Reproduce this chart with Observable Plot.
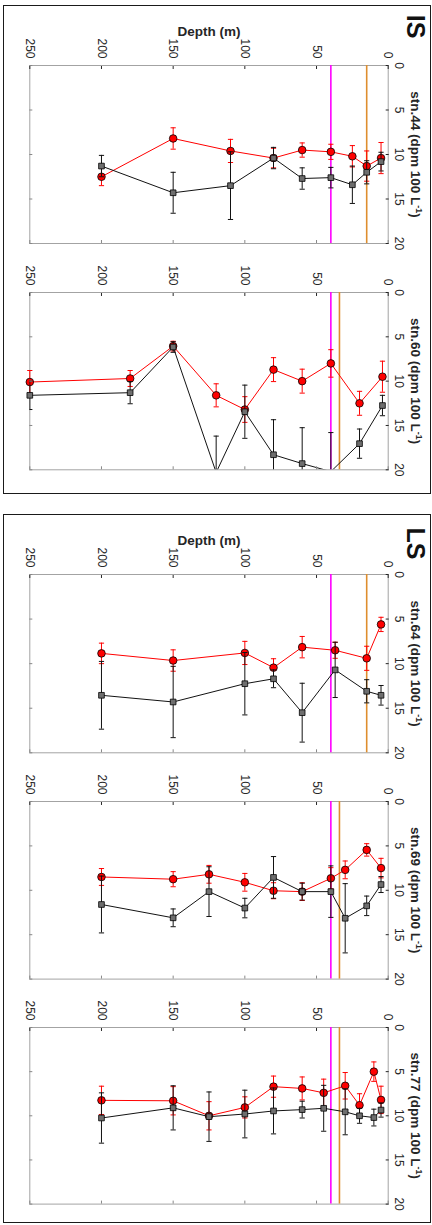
<!DOCTYPE html>
<html><head><meta charset="utf-8">
<script src="https://cdn.jsdelivr.net/npm/d3@7"></script>
<script src="https://cdn.jsdelivr.net/npm/@observablehq/plot@0.6"></script>
<style>
body{margin:0;background:#fff;font-family:"Liberation Sans",Arial,sans-serif;}
#root{position:relative;width:432px;height:1225px;overflow:hidden;}
.box{position:absolute;border:1.5px solid #1a1a1a;box-sizing:border-box;}
.panel{position:absolute;left:0;}
</style></head><body><div id="root"></div>
<script>
// ---- data ----
const stations = ["stn.44", "stn.60", "stn.64", "stn.69", "stn.77"];
const regions = ["IS", "IS", "LS", "LS", "LS"];
const depthTicks = [0, 50, 100, 150, 200, 250];
const actTicks = [0, 5, 10, 15, 20];

const depths = [
  [5, 15, 25, 40, 60, 80, 110, 150, 200],
  [4, 20, 40, 60, 80, 100, 120, 150, 180, 250],
  [5, 15, 37, 60, 80, 100, 150, 200],
  [5, 15, 30, 40, 60, 80, 100, 125, 150, 200],
  [5, 10, 20, 30, 45, 60, 80, 100, 125, 150, 200]
];
const redVals = [
  [10.4, 11.3, 10.2, 9.7, 9.5, 10.4, 9.6, 8.2, 12.5],
  [9.5, 12.5, 8.0, 10.0, 8.7, 13.2, 11.6, 6.05, 9.7, 10.1],
  [5.6, 9.4, 8.5, 8.15, 10.45, 8.8, 9.65, 8.85],
  [7.5, 5.45, 7.7, 8.65, 10.15, 10.05, 9.1, 8.2, 8.75, 8.5],
  [8.2, 5.0, 8.8, 6.6, 7.4, 6.9, 6.7, 9.05, 10.0, 8.3, 8.25]
];
const redErr = [
  [1.75, 1.7, 1.2, 0.85, 0.8, 1.1, 1.3, 1.2, 1.0],
  [1.75, 1.35, 1.55, 1.35, 1.35, 1.45, 1.3, 0.55, 0.9, 1.3],
  [0.8, 1.35, 0.9, 1.2, 1.0, 1.3, 1.2, 1.15],
  [1.1, 0.7, 1.0, 1.2, 1.0, 0.9, 1.0, 1.0, 0.85, 0.95],
  [1.55, 1.1, 1.3, 1.5, 1.55, 1.3, 1.2, 1.2, 1.6, 1.6, 1.6]
];
const blackVals = [
  [10.8, 12.0, 13.4, 12.6, 12.7, 10.4, 13.5, 14.3, 11.3],
  [12.75, 17.05, 20.2, 19.3, 18.3, 13.45, 20.3, 6.15, 11.3, 11.6],
  [13.55, 13.1, 10.7, 15.5, 11.7, 12.25, 14.3, 13.55],
  [9.35, 11.75, 13.15, 10.15, 10.15, 8.55, 12.0, 10.15, 13.1, 11.6],
  [9.35, 10.2, 10.0, 9.55, 9.15, 9.3, 9.45, 9.8, 10.1, 9.1, 10.25]
];
const blackErr = [
  [1.05, 1.3, 2.1, 1.15, 1.2, 1.2, 3.8, 2.3, 1.2],
  [1.15, 1.65, 4.4, 4.05, 3.95, 3.0, 4.1, 0.6, 1.25, 1.6],
  [1.1, 1.3, 3.1, 3.3, 1.0, 3.5, 4.0, 3.8],
  [0.9, 1.1, 3.9, 2.9, 0.95, 2.35, 1.1, 2.8, 1.0, 3.2],
  [0.8, 0.95, 0.85, 2.6, 2.6, 0.95, 2.6, 2.7, 2.8, 2.5, 2.85]
];
const magentaDepth = [40, 40, 40, 40, 40];
const orangeDepth = [15, 34, 15, 34, 34];

// ---- layout ----
const frameTop = [65.3, 292, 574, 800.7, 1026.7];
const frameH = [178, 177.3, 178.3, 177.6, 176.6];
const boxes = [{top: 4.5, height: 489}, {top: 513.5, height: 709}];

const root = document.getElementById("root");
boxes.forEach(b => {
  const d = document.createElement("div");
  d.className = "box";
  d.style.left = "3px"; d.style.width = "427.5px";
  d.style.top = b.top + "px"; d.style.height = b.height + "px";
  root.appendChild(d);
});

const capSym = {draw(ctx, size) { const r = Math.sqrt(size / Math.PI); ctx.moveTo(-r, 0); ctx.lineTo(r, 0); }};
const RED = "#ff0000", MAG = "#ff00ff", ORG = "#de8e2e", GREY = "#6e6e6e", TXT = "#262626";

stations.forEach((stn, i) => {
  const first = i === 0 || regions[i] !== regions[i - 1];
  const rows = depths[i].map((d, j) => ({
    d, red: redVals[i][j], re: redErr[i][j], blk: blackVals[i][j], be: blackErr[i][j]
  }));
  const mt = first ? 62 : 30, mb = 6;
  const marks = [
    Plot.frame({stroke: "#a3a3a3", strokeWidth: 1}),
    Plot.ruleX([magentaDepth[i]], {x: d => d, stroke: MAG, strokeWidth: 1.6}),
    Plot.ruleX([orangeDepth[i]], {x: d => d, stroke: ORG, strokeWidth: 1.6}),
    // red series
    Plot.line(rows, {x: "d", y: "red", stroke: RED, strokeWidth: 1}),
    Plot.ruleX(rows, {x: "d", y1: r => r.red - r.re, y2: r => r.red + r.re, stroke: RED, strokeWidth: 1}),
    Plot.dot(rows, {x: "d", y: r => r.red - r.re, symbol: capSym, r: 2.6, stroke: RED, fill: "none", strokeWidth: 1}),
    Plot.dot(rows, {x: "d", y: r => r.red + r.re, symbol: capSym, r: 2.6, stroke: RED, fill: "none", strokeWidth: 1}),
    Plot.dot(rows, {x: "d", y: "red", symbol: "circle", r: 3.8, fill: RED, stroke: "#000", strokeWidth: 0.8}),
    // black series
    Plot.line(rows, {x: "d", y: "blk", stroke: "#111", strokeWidth: 1, clip: true}),
    Plot.ruleX(rows, {x: "d", y1: r => r.blk - r.be, y2: r => r.blk + r.be, stroke: "#111", strokeWidth: 1, clip: true}),
    Plot.dot(rows, {x: "d", y: r => r.blk - r.be, symbol: capSym, r: 2.6, stroke: "#111", fill: "none", strokeWidth: 1, clip: true}),
    Plot.dot(rows, {x: "d", y: r => r.blk + r.be, symbol: capSym, r: 2.6, stroke: "#111", fill: "none", strokeWidth: 1, clip: true}),
    Plot.dot(rows.filter(r => r.blk <= 20), {x: "d", y: "blk", symbol: "square", r: 3.2, fill: GREY, stroke: "#000", strokeWidth: 0.8}),
    // axes
    Plot.axisX({anchor: "top", ticks: depthTicks, tickSize: -3, tickPadding: 10, tickRotate: 90,
      textAnchor: "end", lineAnchor: "middle", fontSize: 12, color: TXT, label: null}),
    Plot.axisX({anchor: "bottom", ticks: depthTicks, tickSize: -3, tickFormat: () => "", color: "#888", label: null}),
    Plot.axisY({anchor: "right", ticks: actTicks, tickSize: -3, tickPadding: 13.3, tickRotate: 90,
      textAnchor: "middle", lineAnchor: "middle", fontSize: 12, color: TXT, label: null}),
    Plot.axisY({anchor: "left", ticks: actTicks, tickSize: -3, tickFormat: () => "", color: "#888", label: null}),
    Plot.text([stn + " (dpm 100 L-1)"], {frameAnchor: "right", dx: 27.5, rotate: 90, fontSize: 13.5,
      fontWeight: "bold", fill: TXT, textAnchor: "middle", lineAnchor: "middle"})
  ];
  if (first) {
    marks.push(Plot.text(["Depth (m)"], {frameAnchor: "top", dy: -39, fontSize: 13.5, fontWeight: "bold", fill: TXT, textAnchor: "middle"}));
    marks.push(Plot.text([regions[i]], {frameAnchor: "top-right", dx: 27, dy: regions[i] === "IS" ? -39 : -31,
      rotate: 90, fontSize: 25, fontWeight: "bold", fill: "#111", textAnchor: "middle", lineAnchor: "middle"}));
  }
  const svg = Plot.plot({
    width: 432, height: mt + frameH[i] + mb,
    marginLeft: 29.3, marginRight: 44.3, marginTop: mt, marginBottom: mb,
    style: {fontFamily: "'Liberation Sans', Arial, sans-serif", background: "transparent", overflow: "visible"},
    x: {domain: [0, 250], reverse: true},
    y: {domain: [0, 20], reverse: true},
    marks
  });
  // superscript for L-1
  svg.querySelectorAll("text").forEach(t => {
    const s = t.textContent;
    if (s.endsWith("L-1)")) {
      const ns = "http://www.w3.org/2000/svg";
      while (t.firstChild) t.removeChild(t.firstChild);
      t.appendChild(document.createTextNode(s.slice(0, -3)));
      const sup = document.createElementNS(ns, "tspan");
      sup.setAttribute("dy", "-5"); sup.setAttribute("font-size", "9"); sup.textContent = "-1";
      const rest = document.createElementNS(ns, "tspan");
      rest.setAttribute("dy", "5"); rest.textContent = ")";
      t.appendChild(sup); t.appendChild(rest);
    }
  });
  svg.classList.add("panel");
  svg.style.position = "absolute";
  svg.style.left = "0px";
  svg.style.top = (frameTop[i] - mt) + "px";
  root.appendChild(svg);
});
</script></body></html>
